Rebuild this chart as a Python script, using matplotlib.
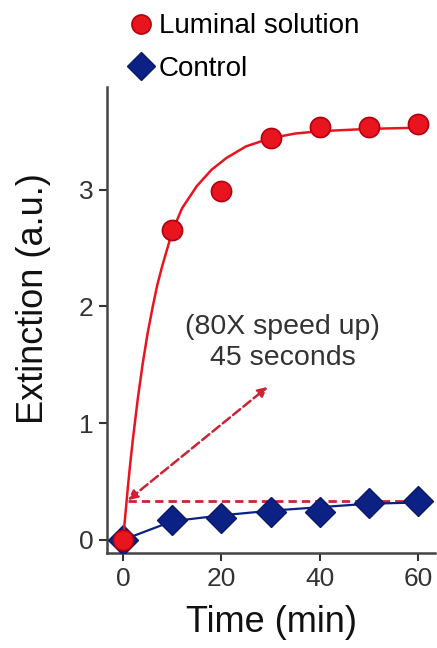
import numpy as np
import matplotlib.pyplot as plt

plt.rcParams['font.family'] = ['Liberation Sans', 'DejaVu Sans']

# Measured points
time_min = [0, 10, 20, 30, 40, 50, 60]
luminal = [0.0, 2.65, 2.99, 3.44, 3.54, 3.54, 3.56]
control = [0.0, 0.17, 0.19, 0.24, 0.24, 0.32, 0.33]

# Fitted curves
fit_t = [0, 0.5, 1, 1.5, 2, 3, 4, 5, 6, 7, 8, 10, 12, 15, 18, 21, 25, 30, 35, 40, 50, 60]
fit_luminal = [0.0, 0.23, 0.46, 0.67, 0.86, 1.21, 1.51, 1.77, 1.99, 2.19, 2.35,
               2.64, 2.84, 3.03, 3.17, 3.27, 3.37, 3.44, 3.48, 3.50, 3.52, 3.53]
fit_ctrl_t = [0, 10, 20, 30, 40, 50, 60]
fit_control = [0.0, 0.16, 0.21, 0.25, 0.28, 0.31, 0.32]

# "45 seconds" reference level and arrow
level_y = 0.335
arrow_start = (1.0, 0.34)
arrow_end = (29.4, 1.31)

red = '#e8141e'
navy = '#0c2184'
dash_red = '#cc2436'

fig = plt.figure(figsize=(4.37, 6.48), dpi=100)
ax = fig.add_axes([0.245, 0.147, 0.75, 0.719])

ax.plot(fit_ctrl_t, fit_control, color=navy, lw=1.6, zorder=2)
ax.plot(time_min, control, 'D', color=navy, ms=15, mec='#0a1a66', zorder=3, label='Control')
ax.plot(fit_t, fit_luminal, color=red, lw=1.8, zorder=4)
ax.plot(time_min, luminal, 'o', color=red, ms=14.5, mec='#b30010', mew=1.2, zorder=5,
        label='Luminal solution')

ax.plot([arrow_start[0], time_min[-1]], [level_y, level_y], ls='--', color=dash_red,
        lw=2, dashes=(3, 1.8), zorder=1)
ax.annotate('', xy=arrow_end, xytext=arrow_start,
            arrowprops=dict(arrowstyle='<|-|>', ls='--', color=dash_red, lw=1.8,
                            mutation_scale=14, shrinkA=0, shrinkB=0))
ax.text(32.5, 1.69, '(80X speed up)\n45 seconds', ha='center', va='center',
        fontsize=20.5, color='#333333', linespacing=1.22)

ax.set_xlim(-3.25, 63.4)
ax.set_ylim(-0.11, 3.88)
ax.set_xticks([0, 20, 40, 60])
ax.set_yticks([0, 1, 2, 3])
for s in ['top', 'right']:
    ax.spines[s].set_visible(False)
for s in ['left', 'bottom']:
    ax.spines[s].set_color('#444444')
    ax.spines[s].set_linewidth(1.8)
ax.tick_params(labelsize=19, colors='#333333', length=6, width=1.5, pad=4)
ax.set_xlabel('Time (min)', fontsize=26, color='#111111')
ax.set_ylabel('Extinction (a.u.)', fontsize=26, color='#111111')
ax.xaxis.set_label_coords(0.503, -0.113)
ax.yaxis.set_label_coords(-0.17, 0.545)

handles, labels = ax.get_legend_handles_labels()
fig.legend(handles[::-1], labels[::-1], loc='upper left', bbox_to_anchor=(0.258, 1.005),
           frameon=False, fontsize=20, handlelength=0.8, handletextpad=0.25,
           labelspacing=0.6, markerscale=0.95, borderaxespad=0.2)

fig.savefig('out.png', dpi=100)
